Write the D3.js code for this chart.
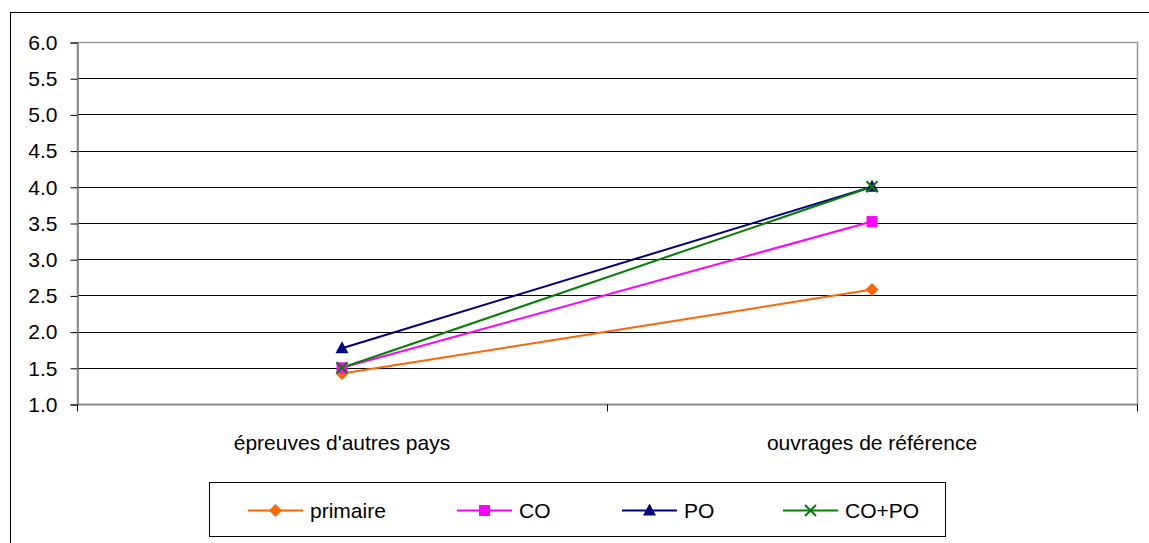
<!DOCTYPE html>
<html><head><meta charset="utf-8">
<script src="https://cdn.jsdelivr.net/npm/d3@7"></script>
<style>body{margin:0;background:#fff}svg{display:block}text{font-family:"Liberation Sans",Arial,sans-serif}</style>
</head><body>
<svg id="c" width="1149" height="543"></svg>
<script>
const categories = ["épreuves d'autres pays", "ouvrages de référence"];
const seriesNames = ["primaire", "CO", "PO", "CO+PO"];
const primaire = [1.42, 2.58];
const co = [1.5, 3.52];
const po = [1.77, 4.0];
const copo = [1.5, 4.0];
const yTicks = [1.0, 1.5, 2.0, 2.5, 3.0, 3.5, 4.0, 4.5, 5.0, 5.5, 6.0];

const seriesValues = [primaire, co, po, copo];
const colors = ["#ff6600", "#ff00ff", "#000080", "#008000"];
const symbols = ["diamond", "square", "triangle", "cross"];
const FS = 21;

const svg = d3.select("#c");
svg.append("rect").attr("x", 10.5).attr("y", 12.5).attr("width", 1150).attr("height", 540)
  .attr("fill", "none").attr("stroke", "#000").attr("stroke-width", 1);

const L = 77, R = 1137, T = 42, B = 404;
const x = d3.scaleBand().domain(categories).range([L, R]);
const y = d3.scaleLinear().domain([1, 6]).range([B, T]);

const g = svg.append("g");
g.selectAll("line.grid").data(yTicks.slice(1, -1)).join("line")
  .attr("x1", L).attr("x2", R).attr("y1", d => Math.round(y(d)) + 0.5).attr("y2", d => Math.round(y(d)) + 0.5)
  .attr("stroke", "#000").attr("stroke-width", 1);
g.append("rect").attr("x", L + 0.5).attr("y", T + 0.5).attr("width", R - L).attr("height", B - T)
  .attr("fill", "none").attr("stroke", "#999").attr("stroke-width", 1.5);

const yAxis = d3.axisLeft(y).tickValues(yTicks).tickFormat(d3.format(".1f")).tickSize(7).tickPadding(13);
const ya = g.append("g").attr("transform", `translate(${L + 0.5},0.5)`).call(yAxis);
ya.select(".domain").attr("stroke", "#808080").attr("stroke-width", 1.5);
ya.selectAll(".tick line").attr("stroke", "#000");
ya.selectAll("text").attr("font-size", FS).attr("fill", "#000").attr("font-family", "Liberation Sans, Arial, sans-serif");

const xa = g.append("g").attr("transform", `translate(0,${B + 0.5})`);
xa.append("line").attr("x1", L).attr("x2", R).attr("stroke", "#808080").attr("stroke-width", 1.5);
const edges = [L, ...categories.map(c => x(c) + x.bandwidth())];
xa.selectAll("line.t").data(edges).join("line").attr("class", "t")
  .attr("x1", d => d + 0.5).attr("x2", d => d + 0.5).attr("y1", 0).attr("y2", 7).attr("stroke", "#000");
xa.selectAll("text").data(categories).join("text")
  .attr("x", d => x(d) + x.bandwidth() / 2).attr("y", 45).attr("text-anchor", "middle")
  .attr("font-size", FS).attr("fill", "#000").text(d => d);

const cx = c => x(c) + x.bandwidth() / 2;
const line = d3.line().x((d, i) => cx(categories[i])).y(d => y(d));

function drawMarker(sel, type, color) {
  if (type === "cross") {
    const s = 5.5;
    sel.append("path").attr("d", `M${-s},${-s}L${s},${s}M${-s},${s}L${s},${-s}`)
      .attr("stroke", color).attr("stroke-width", 2).attr("fill", "none");
  } else if (type === "diamond") {
    sel.append("path").attr("d", "M0,-6.5L6.5,0L0,6.5L-6.5,0Z").attr("fill", color);
  } else if (type === "square") {
    sel.append("path").attr("d", "M-5.5,-5.5H5.5V5.5H-5.5Z").attr("fill", color);
  } else {
    sel.append("path").attr("d", "M0,-7L6.5,5L-6.5,5Z").attr("fill", color);
  }
}

seriesValues.forEach((vals, si) => {
  g.append("path").datum(vals).attr("d", line).attr("fill", "none")
    .attr("stroke", colors[si]).attr("stroke-width", 2);
});
seriesValues.forEach((vals, si) => {
  vals.forEach((v, i) => {
    const m = g.append("g").attr("transform", `translate(${cx(categories[i])},${y(v)})`);
    drawMarker(m, symbols[si], colors[si]);
  });
});

// legend
const lg = svg.append("g");
lg.append("rect").attr("x", 209.5).attr("y", 482.5).attr("width", 736).attr("height", 54)
  .attr("fill", "none").attr("stroke", "#000").attr("stroke-width", 1);
const legendLineStart = [248, 457, 622, 783];
seriesNames.forEach((n, si) => {
  const x0 = legendLineStart[si];
  const it = lg.append("g").attr("transform", `translate(${x0},510.5)`);
  it.append("line").attr("x1", 0).attr("x2", 55).attr("stroke", colors[si]).attr("stroke-width", 2);
  const m = it.append("g").attr("transform", "translate(27.5,0)");
  drawMarker(m, symbols[si], colors[si]);
  it.append("text").attr("x", 62).attr("y", 7.5).attr("font-size", FS).attr("fill", "#000").text(n);
});
</script>
</body></html>
